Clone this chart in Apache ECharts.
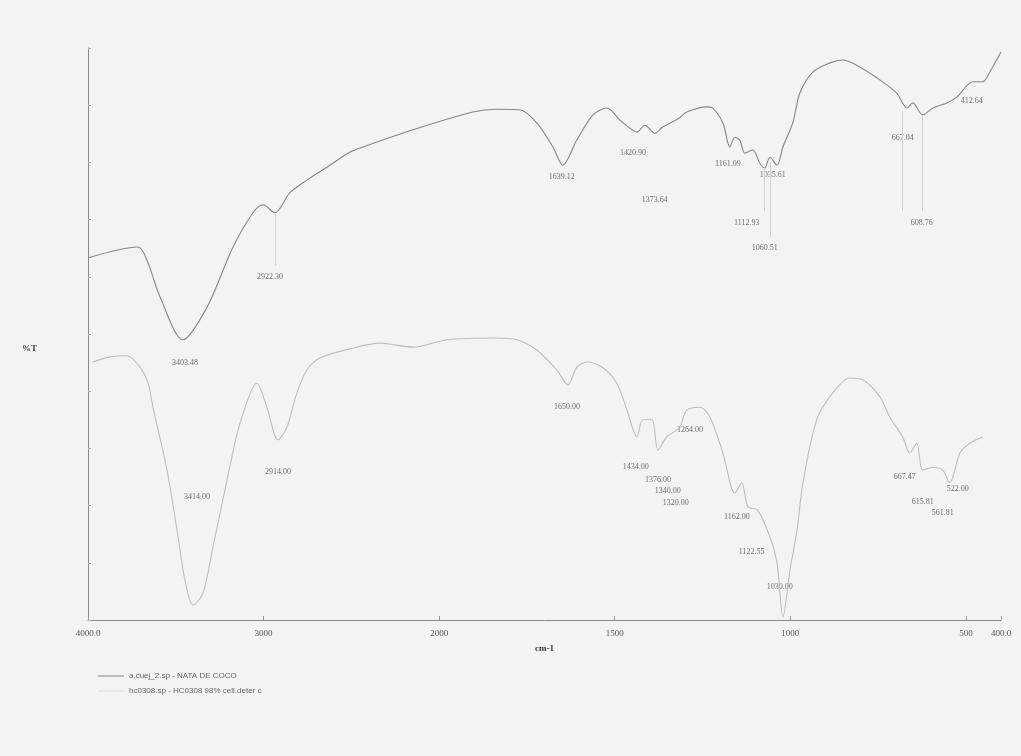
<!DOCTYPE html>
<html>
<head>
<meta charset="utf-8">
<title>FTIR</title>
<script src="https://cdn.jsdelivr.net/npm/echarts@6/dist/echarts.min.js"></script>
<style>
  html, body { margin: 0; padding: 0; background: #f3f3f2; }
  #echarts { width: 1021px; height: 756px; }
</style>
</head>
<body>
<div id="echarts"></div>
<script>
// spectra: [wavenumber cm-1, %T]
const nataDeCoco = [
    [4000, 63.3], [3715, 65.2], [3664, 62.9], [3590, 56.5], [3459, 49.0], [3322, 54.7],
    [3174, 65.2], [3060, 71.2], [3003, 72.6], [2935, 71.2], [2850, 74.7], [2753, 76.9],
    [2622, 79.5], [2508, 81.8], [2434, 82.7], [2149, 85.7], [1904, 88.8], [1836, 89.3],
    [1770, 89.2], [1722, 86.9], [1676, 82.7], [1648, 79.5], [1608, 83.9], [1562, 88.3],
    [1522, 89.5], [1485, 87.4], [1457, 86.0], [1437, 85.3], [1414, 86.5], [1386, 85.1],
    [1363, 86.2], [1315, 87.8], [1295, 88.8], [1238, 89.7], [1221, 89.5], [1192, 86.9],
    [1172, 82.7], [1158, 84.4], [1144, 83.9], [1129, 81.6], [1107, 82.2], [1087, 79.9],
    [1073, 79.0], [1058, 80.9], [1038, 79.5], [1021, 82.7], [993, 86.9], [973, 92.1],
    [936, 95.8], [887, 97.4], [851, 97.9], [811, 97.0], [754, 94.8], [697, 92.1],
    [668, 89.5], [651, 90.4], [623, 88.3], [594, 89.5], [554, 90.4], [526, 91.4],
    [480, 94.1], [452, 94.1], [432, 95.8], [400, 99.3]
];
const hc0308 = [
    [3972, 45.1], [3875, 46.0], [3778, 46.2], [3704, 44.2], [3658, 41.4], [3630, 37.2],
    [3550, 26.2], [3493, 15.7], [3448, 7.0], [3402, 2.6], [3345, 4.7], [3288, 12.8],
    [3208, 24.5], [3134, 34.4], [3038, 41.4], [2981, 37.2], [2918, 31.5], [2867, 33.7],
    [2810, 39.7], [2753, 43.7], [2679, 45.8], [2508, 47.4], [2337, 48.4], [2149, 47.7],
    [1978, 49.0], [1836, 49.3], [1779, 49.0], [1722, 47.2], [1665, 43.7], [1633, 41.1],
    [1608, 44.2], [1579, 45.1], [1534, 44.1], [1494, 41.4], [1465, 36.7], [1437, 32.0],
    [1420, 35.0], [1394, 35.0], [1377, 29.7], [1352, 32.0], [1315, 33.7], [1295, 36.7],
    [1258, 37.2], [1229, 35.5], [1192, 29.2], [1158, 22.2], [1138, 24.0], [1121, 19.8],
    [1093, 19.2], [1058, 14.5], [1038, 10.0], [1021, 0.5], [1001, 8.7], [981, 15.7],
    [964, 24.0], [925, 35.0], [879, 39.7], [831, 42.3], [794, 42.0], [745, 39.0],
    [717, 35.5], [680, 32.0], [660, 29.2], [640, 30.9], [623, 26.2], [594, 26.7],
    [566, 26.2], [546, 24.0], [517, 29.2], [489, 30.9], [452, 32.0]
];
// peak labels: [wavenumber, %T, text]
const nataPeaks = [
    [3448, 44.9, '3403.48'], [2964, 60.0, '2922.30'], [1651, 77.4, '1639.12'],
    [1448, 81.6, '1420.90'], [1386, 73.4, '1373.64'], [1178, 79.7, '1161.09'],
    [1050, 77.8, '1035.61'], [1124, 69.4, '1112.93'], [1073, 65.0, '1060.51'],
    [680, 84.3, '667.04'], [626, 69.4, '608.76'], [483, 90.7, '412.64']
];
const hcPeaks = [
    [3379, 21.5, '3414.00'], [2918, 25.9, '2914.00'], [1636, 37.2, '1650.00'],
    [1440, 26.7, '1434.00'], [1377, 24.5, '1376.00'], [1349, 22.6, '1340.00'],
    [1326, 20.5, '1320.00'], [1286, 33.2, '1264.00'], [1152, 18.0, '1162.00'],
    [1110, 11.9, '1122.55'], [1030, 5.8, '1030.00'], [674, 25.0, '667.47'],
    [623, 20.6, '615.81'], [566, 18.7, '561.81'], [523, 22.9, '522.00']
];
// thin drop lines under the top spectrum: [wavenumber, from %T, to %T]
const dropLines = [
    [2935, 71, 62], [1073, 79, 71.5], [1058, 80, 67], [680, 89, 71.5], [623, 88, 71.5]
];
const legendNames = ['a.cuej_2.sp - NATA DE COCO', 'hc0308.sp - HC0308 98% cell.deter c'];

// the spectrometer halves the scale above 2000 cm-1
function waveToAxis(w) {
    return w >= 2000 ? (4000 - w) / 2 : 1000 + (2000 - w);
}
function axisToWave(t) {
    return t <= 1000 ? 4000 - 2 * t : 2000 - (t - 1000);
}
function toAxis(list) {
    return list.map(function (d) { return [waveToAxis(d[0]), d[1]]; });
}
function peakData(list) {
    return list.map(function (d) { return { value: [waveToAxis(d[0]), d[1]], name: d[2] }; });
}

var chartDom = document.getElementById('echarts');
var myChart = echarts.init(chartDom);
var labelFont = { fontSize: 8, fontFamily: 'Liberation Serif', color: '#4a4a4a' };
const option = {
    backgroundColor: '#f3f3f2',
    animation: false,
    grid: { left: 88, right: 20, top: 48, bottom: 136 },
    legend: {
        data: legendNames,
        orient: 'vertical',
        left: 93,
        top: 667,
        icon: 'rect',
        itemWidth: 26,
        itemHeight: 1,
        itemGap: 7,
        textStyle: { fontSize: 8, fontFamily: 'Liberation Sans', color: '#666' }
    },
    xAxis: {
        type: 'value',
        min: 0,
        max: 2600,
        interval: 500,
        name: 'cm-1',
        nameLocation: 'middle',
        nameGap: 24,
        nameTextStyle: { fontSize: 9, fontFamily: 'Liberation Serif', color: '#333', fontWeight: 'bold' },
        splitLine: { show: false },
        axisLine: { lineStyle: { color: '#8a8a8a', width: 1 } },
        axisTick: { inside: true, length: 4, lineStyle: { color: '#999' } },
        axisLabel: {
            interval: 0,
            showMaxLabel: true,
            margin: 9,
            fontSize: 9,
            fontFamily: 'Liberation Serif',
            color: '#555',
            formatter: function (t) {
                var w = axisToWave(t);
                return (t === 0 || t === 2600) ? w.toFixed(1) : String(w);
            }
        }
    },
    yAxis: {
        type: 'value',
        min: 0,
        max: 100,
        interval: 10,
        splitLine: { show: false },
        axisLine: { show: true, lineStyle: { color: '#8a8a8a', width: 1 } },
        axisTick: { show: true, inside: true, length: 3, lineStyle: { color: '#aaa' } },
        axisLabel: { show: false }
    },
    graphic: [{
        type: 'text',
        left: 22,
        top: 344,
        style: { text: '%T', font: 'bold 9px "Liberation Serif"', fill: '#444' }
    }],
    series: [
        {
            name: legendNames[0],
            type: 'line',
            data: toAxis(nataDeCoco),
            symbol: 'none',
            smooth: 0.3,
            clip: false,
            lineStyle: { color: '#858585', width: 1.1 },
            itemStyle: { color: '#858585' },
            markLine: {
                silent: true,
                symbol: 'none',
                label: { show: false },
                lineStyle: { color: '#d0d0d0', width: 1, type: 'solid' },
                data: dropLines.map(function (d) {
                    return [{ coord: [waveToAxis(d[0]), d[1]] }, { coord: [waveToAxis(d[0]), d[2]] }];
                })
            }
        },
        {
            name: legendNames[1],
            type: 'line',
            data: toAxis(hc0308),
            symbol: 'none',
            smooth: 0.3,
            lineStyle: { color: '#bdbdbd', width: 1.1 },
            itemStyle: { color: '#dadada' }
        },
        {
            type: 'scatter',
            data: peakData(nataPeaks).concat(peakData(hcPeaks)),
            symbolSize: 0,
            silent: true,
            label: Object.assign({
                show: true,
                position: 'inside',
                formatter: function (p) { return p.name; }
            }, labelFont)
        }
    ]
};
myChart.setOption(option);
</script>
</body>
</html>
